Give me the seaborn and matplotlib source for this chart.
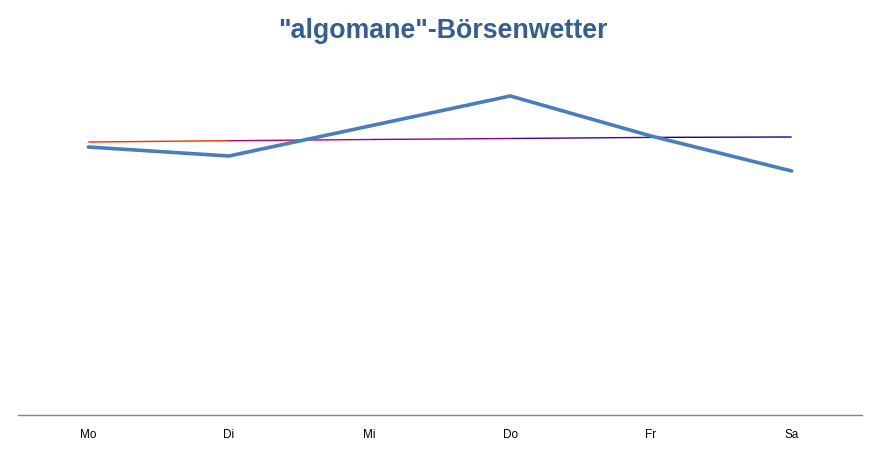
import numpy as np
import pandas as pd
import matplotlib
matplotlib.use("Agg")
import matplotlib.pyplot as plt
import seaborn as sns
from matplotlib.collections import LineCollection
from matplotlib.colors import LinearSegmentedColormap

sns.set_style("white")
plt.rcParams["font.family"] = ["Liberation Sans", "DejaVu Sans"]

# data (arbitrary units)
days = ["Mo", "Di", "Mi", "Do", "Fr", "Sa"]
kurs = [268, 259, 289, 319, 279, 244]
trend = [273, 274.3, 275.5, 276.5, 277.6, 278]

df = pd.DataFrame({"Tag": days, "Kurs": kurs, "Trend": trend})
df["x"] = range(len(days))

fig = plt.figure(figsize=(8.74, 4.65), dpi=100)
ax = fig.add_axes([18 / 874, 50 / 465, 844 / 874, 355 / 465])

# thin gradient line (red -> navy)
pts = np.column_stack([df["x"], df["Trend"]])
segs = np.stack([pts[:-1], pts[1:]], axis=1)
cmap = LinearSegmentedColormap.from_list(
    "grad", ["#ff2a00", "#c0005a", "#8a0090", "#50008e", "#1a0090"])
lc = LineCollection(segs, colors=cmap(np.linspace(0, 1, len(segs))), linewidths=1.0)
ax.add_collection(lc)

sns.lineplot(data=df, x="x", y="Kurs", ax=ax, color="#4a7ebb", linewidth=2.6)

ax.set_xlim(-0.5, 5.5)
ax.set_ylim(0, 355)
ax.set_xticks(df["x"])
ax.set_xticklabels(days, fontsize=8.5, color="black")
ax.tick_params(axis="x", length=0, pad=10)
ax.set_yticks([])
ax.set_xlabel("")
ax.set_ylabel("")
for s in ["top", "right", "left"]:
    ax.spines[s].set_visible(False)
ax.spines["bottom"].set_color("#868686")
ax.spines["bottom"].set_linewidth(1.0)

fig.text(443 / 874, 1 - 31 / 465, '"algomane"-Börsenwetter', ha="center", va="center",
         fontsize=19.3, fontweight="bold", color="#365f91")

fig.savefig("out.png", dpi=100)
